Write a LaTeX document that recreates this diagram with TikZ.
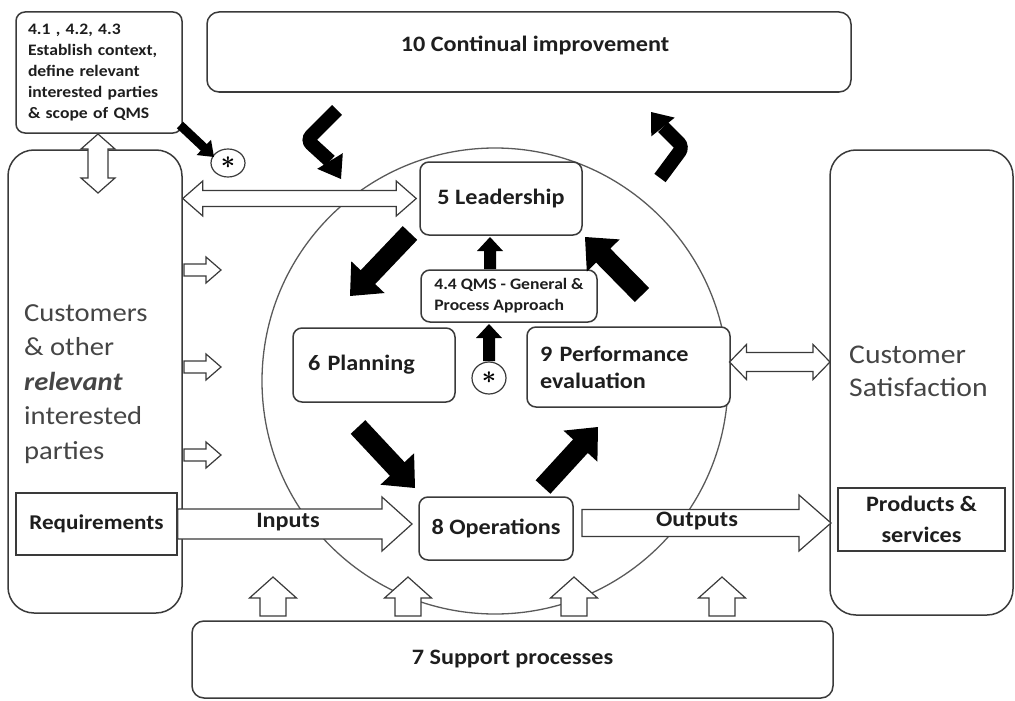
\documentclass[tikz,border=0pt]{standalone}
\usepackage{fontspec}
\setmainfont{Carlito}[FakeStretch=1.1]
\usetikzlibrary{calc,shapes.geometric}
\definecolor{linec}{HTML}{3A3A3A}
\definecolor{txtc}{HTML}{1E1E1E}
\definecolor{graytxt}{HTML}{454545}
\definecolor{circc}{HTML}{5A5A5A}
\newcommand\fsz[2]{\fontsize{#1}{#2}\selectfont}
\newcommand\staricon{{\fsz{30}{30}\boldmath$\ast$}}
\tikzset{
  sarrow/.style n args={3}{to path={
    ($(\tikztostart)!#1!90:(\tikztotarget)$)
    -- ($($(\tikztotarget)!#3!(\tikztostart)$)!#1!-90:(\tikztostart)$)
    -- ($($(\tikztotarget)!#3!(\tikztostart)$)!#2!-90:(\tikztostart)$)
    -- (\tikztotarget)
    -- ($($(\tikztotarget)!#3!(\tikztostart)$)!#2!90:(\tikztostart)$)
    -- ($($(\tikztotarget)!#3!(\tikztostart)$)!#1!90:(\tikztostart)$)
    -- ($(\tikztostart)!#1!-90:(\tikztotarget)$)
    -- cycle}},
  dsarrow/.style n args={3}{to path={
    -- ($($(\tikztostart)!#3!(\tikztotarget)$)!#2!90:(\tikztotarget)$)
    -- ($($(\tikztostart)!#3!(\tikztotarget)$)!#1!90:(\tikztotarget)$)
    -- ($($(\tikztotarget)!#3!(\tikztostart)$)!#1!-90:(\tikztostart)$)
    -- ($($(\tikztotarget)!#3!(\tikztostart)$)!#2!-90:(\tikztostart)$)
    -- (\tikztotarget)
    -- ($($(\tikztotarget)!#3!(\tikztostart)$)!#2!90:(\tikztostart)$)
    -- ($($(\tikztotarget)!#3!(\tikztostart)$)!#1!90:(\tikztostart)$)
    -- ($($(\tikztostart)!#3!(\tikztotarget)$)!#1!-90:(\tikztotarget)$)
    -- ($($(\tikztostart)!#3!(\tikztotarget)$)!#2!-90:(\tikztotarget)$)
    -- cycle}},
  headtip/.style={to path={
    ($(\tikztostart)!#1!90:(\tikztotarget)$) -- (\tikztotarget)
    -- ($(\tikztostart)!#1!-90:(\tikztotarget)$) -- cycle}},
  box/.style={draw=linec, line width=1.5pt, rounded corners=9pt, fill=white,
    text=txtc, font=\bfseries\fsz{22}{27}, inner sep=0pt},
  bigbox/.style={draw=linec, line width=1.5pt, rounded corners=26pt, fill=white, inner sep=0pt},
  rbox/.style={draw=linec, line width=1.5pt, fill=white, text=txtc,
    font=\bfseries\fsz{22}{31}, align=center, inner sep=0pt},
  lbl/.style={text=txtc, font=\bfseries\fsz{22}{27}, inner sep=0pt},
  bigtxt/.style={text=graytxt, font=\fsz{26}{34.5}, align=left, inner sep=0pt},
  starc/.style={draw=linec, line width=1.2pt, ellipse, fill=white, inner sep=0pt},
  wa/.style={draw=linec, line width=1.2pt, fill=white, line join=miter},
  ba/.style={fill=black},
  bent/.style={line width=14pt, rounded corners=6pt},
}
\begin{document}
\begin{tikzpicture}[x=1pt,y=-1pt]
\useasboundingbox (0,0) rectangle (1015,701);

% main cycle circle
\node[circle, draw=circc, line width=1.3pt, minimum size=466pt, inner sep=0pt] (cyc) at (495,381) {};

% outer boxes
\node[box, minimum width=166pt, minimum height=121pt, text width=142pt, inner xsep=12pt,
  align=left, font=\bfseries\fsz{16}{21}] (ctx) at (99,72.5)
  {4.1 , 4.2, 4.3\\Establish context,\\define relevant\\interested parties\\\& scope of QMS};
\node[box, rounded corners=12pt, minimum width=644pt, minimum height=80pt] (ci) at (529,52) {};
\node[lbl] (citxt) at (535,45) {10 Continual improvement};

\node[bigbox, minimum width=174pt, minimum height=463pt] (cust) at (95,381.5) {};
\node[bigtxt, anchor=west] (custtxt) at (24,384)
  {Customers\\\& other\\\textbf{\textit{relevant}}\\interested\\parties};
\node[rbox, minimum width=161pt, minimum height=62pt, font=\bfseries\fsz{21}{30}] (req) at (96.5,524) {Requirements};

\node[bigbox, minimum width=183pt, minimum height=465pt] (sat) at (921.5,382.5) {};
\node[bigtxt, anchor=west, font=\fsz{27}{33}] (sattxt) at (849,371) {Customer\\Satisfaction};
\node[rbox, minimum width=167pt, minimum height=63pt] (prod) at (921.5,519.5) {Products \&\\services};

\node[box, rounded corners=12pt, minimum width=641pt, minimum height=77pt] (sup) at (512.5,659.5) {7 Support processes};

% inner boxes
\node[box, minimum width=162pt, minimum height=73pt] (lead) at (501,198.5) {5 Leadership};
\node[box, minimum width=176pt, minimum height=52pt, align=left,
  font=\bfseries\fsz{16}{21}] (qms) at (509,296) {4.4 QMS - General \&\\Process Approach};
\node[box, minimum width=162pt, minimum height=74pt, text width=132pt, inner xsep=15pt,
  align=left] (plan) at (374,365) {6 Planning};
\node[box, minimum width=203pt, minimum height=80pt, text width=177pt, inner xsep=13pt,
  align=left] (perf) at (628.5,367) {9 Performance\\evaluation};
\node[box, minimum width=154pt, minimum height=63pt] (ops) at (496,528.5) {8 Operations};

\node[starc, minimum width=34pt, minimum height=28pt] (st1) at (228,163) {\staricon};
\node[starc, minimum width=34pt, minimum height=32pt] (st2) at (489,378) {\staricon};

% white double arrows
\coordinate (v1) at (98,134); \coordinate (v2) at (98,193);
\draw[wa] (v1) to[dsarrow={10pt}{17pt}{15pt}] (v2);
\coordinate (h1) at (cust.east |- lead.west); \coordinate (h2) at ($(lead.west)+(-3,0)$);
\draw[wa] (h1) to[dsarrow={8pt}{17.5pt}{20pt}] (h2);
\coordinate (p1) at (729.5,362); \coordinate (p2) at (830,362);
\draw[wa] (p1) to[dsarrow={9.5pt}{17.5pt}{17pt}] (p2);

% small white arrows from customers
\foreach \yy [count=\i] in {270,367,455}{
  \coordinate (sa\i) at (184,\yy); \coordinate (sb\i) at (221,\yy);
  \draw[wa] (sa\i) to[sarrow={6pt}{13pt}{15pt}] (sb\i);
}

% inputs / outputs
\coordinate (in1) at (req.east); \coordinate (in2) at (412,524);
\draw[wa] (in1) to[sarrow={15pt}{27pt}{30pt}] (in2);
\coordinate (out1) at (582,523); \coordinate (out2) at (831,523);
\draw[wa] (out1) to[sarrow={13.5pt}{28pt}{32pt}] (out2);
\node[lbl] (inlbl) at (288,522) {Inputs};
\node[lbl] (outlbl) at (697,521) {Outputs};

% support arrows
\foreach \xx [count=\i] in {273,408,574,722}{
  \coordinate (ua\i) at (\xx,616); \coordinate (ub\i) at (\xx,577);
  \draw[wa] (ua\i) to[sarrow={13pt}{23.5pt}{21pt}] (ub\i);
}

% black cycle arrows
\coordinate (b1s) at (410,233); \coordinate (b1t) at (350,296);
\fill[ba] (b1s) to[sarrow={10pt}{23pt}{26pt}] (b1t);
\coordinate (b2s) at (358,427); \coordinate (b2t) at (415,488);
\fill[ba] (b2s) to[sarrow={10pt}{23pt}{26pt}] (b2t);
\coordinate (b3s) at (543,487); \coordinate (b3t) at (598,427);
\fill[ba] (b3s) to[sarrow={10pt}{23pt}{26pt}] (b3t);
\coordinate (b4s) at (642,295); \coordinate (b4t) at (585,237);
\fill[ba] (b4s) to[sarrow={10pt}{23pt}{26pt}] (b4t);

% small black arrows
\coordinate (q1) at (490,269); \coordinate (q2) at (490,237);
\fill[ba] (q1) to[sarrow={6pt}{13pt}{14pt}] (q2);
\coordinate (s2a) at (489,361); \coordinate (s2b) at (489,324);
\fill[ba] (s2a) to[sarrow={6pt}{13pt}{14pt}] (s2b);
\coordinate (c1) at (180,125); \coordinate (c2) at (214,157);
\fill[ba] (c1) to[sarrow={4.5pt}{10.5pt}{14pt}] (c2);

% bent arrows near continual improvement
\coordinate (k1) at (337,110); \coordinate (k2) at (307,140);
\coordinate (k3) at (330,161); \coordinate (k4) at (341,179);
\draw[bent] (k1) -- (k2) -- (k3);
\fill[ba] (k3) to[headtip=15pt] (k4);
\coordinate (m1) at (660,178); \coordinate (m2) at (683,147);
\coordinate (m3) at (663,127); \coordinate (m4) at (651,112);
\draw[bent] (m1) -- (m2) -- (m3);
\fill[ba] (m3) to[headtip=15pt] (m4);
\end{tikzpicture}
\end{document}
